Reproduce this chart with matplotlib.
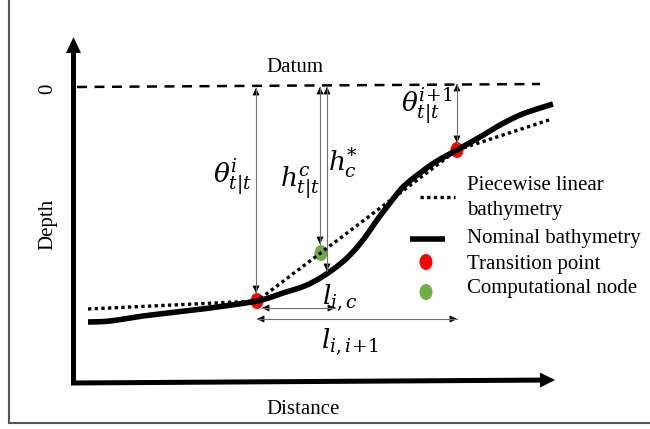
import numpy as np
import matplotlib.pyplot as plt
from matplotlib.patches import Ellipse, FancyArrowPatch

plt.rcParams['font.family'] = ['Liberation Serif', 'DejaVu Serif']
plt.rcParams['mathtext.fontset'] = 'dejavuserif'

# coordinates are in picture units: distance to the right, depth downwards
nominal_x = [88, 110, 143, 177, 210, 257, 283, 307, 328, 347, 363, 377, 390,
             403, 420, 437, 457, 480, 500, 520, 537, 553]
nominal_y = [322, 321, 316, 312, 308, 301, 293, 285, 273, 258, 240, 220, 203,
             187, 173, 161, 150, 137, 125, 115, 109, 104]

linear_x = [88, 257, 457, 552]
linear_y = [309, 301, 150, 119]

transition_x = [257, 457]
transition_y = [301, 150]
node_x = [321]
node_y = [253]

datum_x = [77, 540]
datum_y = [87, 84]

legend_labels = ['Piecewise linear', 'bathymetry', 'Nominal bathymetry',
                 'Transition point', 'Computational node']

RED = '#ff0000'
GREEN = '#70ad47'


def smooth(xs, ys, n=12):
    # catmull-rom through the read points, only to draw a smooth stroke
    p = np.column_stack([xs, ys]).astype(float)
    p = np.vstack([p[0], p, p[-1]])
    out = []
    t = np.linspace(0, 1, n, endpoint=False)[:, None]
    for i in range(1, len(p) - 2):
        p0, p1, p2, p3 = p[i - 1], p[i], p[i + 1], p[i + 2]
        seg = 0.5 * (2 * p1 + (-p0 + p2) * t + (2 * p0 - 5 * p1 + 4 * p2 - p3) * t ** 2
                     + (-p0 + 3 * p1 - 3 * p2 + p3) * t ** 3)
        out.append(seg)
    out.append(p[-2][None, :])
    out = np.vstack(out)
    return out[:, 0], out[:, 1]


fig = plt.figure(figsize=(6.5, 4.29), dpi=100)
ax = fig.add_axes([0, 0, 1, 1])
ax.set_xlim(0, 650)
ax.set_ylim(429, 0)
ax.axis('off')

# frame
ax.plot([9, 9, 650], [0, 423, 423], color='#555555', lw=1.5, solid_joinstyle='miter')

# axes arrows
ax.arrow(73.5, 385, 0, -348, width=5, head_width=15, head_length=16,
         length_includes_head=True, color='k', lw=0)
ax.arrow(71, 383, 484, -3, width=5, head_width=15, head_length=15,
         length_includes_head=True, color='k', lw=0)

ax.text(48, 89, '0', rotation=90, fontsize=15, ha='center', va='center')
ax.text(48, 224, 'Depth', rotation=90, fontsize=15, ha='center', va='center')
ax.text(303, 409, 'Distance', fontsize=15, ha='center', va='center')
ax.text(295, 67, 'Datum', fontsize=15, ha='center', va='center')

# datum line
ax.plot(datum_x, datum_y, color='k', lw=1.8, dashes=(4, 3))

# bathymetries
sx, sy = smooth(nominal_x, nominal_y)
ax.plot(sx, sy, color='k', lw=4.0, solid_capstyle='butt')
ax.plot(linear_x, linear_y, color='k', lw=2.4, dashes=(1, 1))


def dim_arrow(p0, p1):
    ax.plot([p0[0], p1[0]], [p0[1], p1[1]], color='#707070', lw=0.8)
    for a, b in ((p1, p0), (p0, p1)):
        dx = b[0] - a[0]
        dy = b[1] - a[1]
        n = (dx ** 2 + dy ** 2) ** 0.5
        start = (b[0] - dx / n * 6, b[1] - dy / n * 6)
        ax.add_patch(FancyArrowPatch(start, b, arrowstyle='-|>,head_length=4.5,head_width=2.2',
                                     mutation_scale=1, color='k', lw=0.5,
                                     shrinkA=0, shrinkB=0))


dim_arrow((256, 88), (256, 293))
dim_arrow((320, 87), (320, 244))
dim_arrow((327, 87), (327, 271))
dim_arrow((457, 84), (457, 143))
dim_arrow((262, 308), (335, 308))
dim_arrow((257, 319), (457, 319))

# points
for x, y in zip(transition_x, transition_y):
    ax.add_patch(Ellipse((x, y), 13, 16, color=RED, lw=0))
for x, y in zip(node_x, node_y):
    ax.add_patch(Ellipse((x, y), 13, 16, color=GREEN, lw=0))

# labels
ms = 19
ax.text(232, 177, r'$\theta^{i}_{t|t}$', fontsize=ms, ha='center', va='center')
ax.text(300, 183, r'$h^{c}_{t|t}$', fontsize=ms, ha='center', va='center')
ax.text(343, 163, r'$h^{*}_{c}$', fontsize=ms, ha='center', va='center')
ax.text(427, 106, r'$\theta^{i\!+\!1}_{t|t}$', fontsize=ms, ha='center', va='center')
ax.text(340, 298, r'$l_{i,c}$', fontsize=ms, ha='center', va='center')
ax.text(350, 342, r'$l_{i,i\!+\!1}$', fontsize=ms, ha='center', va='center')

# legend
ax.plot([420, 455], [197, 197], color='k', lw=2.4, dashes=(1, 1))
ax.plot([410, 445], [239, 239], color='k', lw=4.0, solid_capstyle='butt')
ax.add_patch(Ellipse((426, 262), 13, 16, color=RED, lw=0))
ax.add_patch(Ellipse((426, 292), 13, 16, color=GREEN, lw=0))
for label, y in zip(legend_labels, [185, 210, 239, 264, 289]):
    ax.text(467, y, label, fontsize=15, ha='left', va='center')

fig.savefig('out.png', dpi=100)
